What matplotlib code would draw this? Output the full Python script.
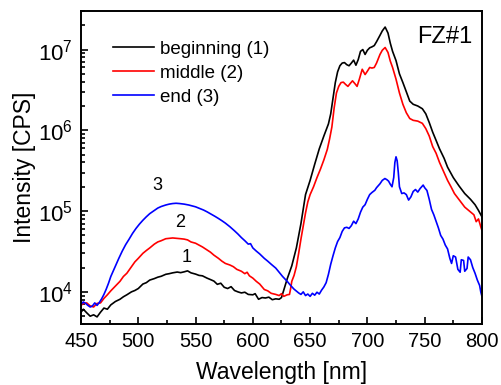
import matplotlib
matplotlib.use("Agg")
import matplotlib.pyplot as plt
import numpy as np

plt.rcParams['font.family'] = ['Liberation Sans', 'DejaVu Sans']
plt.rcParams['mathtext.fontset'] = 'custom'
plt.rcParams['mathtext.rm'] = 'Liberation Sans'
plt.rcParams['mathtext.it'] = 'Liberation Sans:italic'
plt.rcParams['mathtext.bf'] = 'Liberation Sans:bold'

# ---- data ----
wl_1 = [450, 452, 455, 458, 461, 464, 467, 470, 473, 476, 480, 484, 487, 490, 494, 497, 500, 504, 507, 510,
        514, 517, 520, 524, 527, 530, 534, 537, 540, 543, 546, 550, 553, 556, 560, 563, 566, 569, 572, 575,
        578, 581, 584, 587, 590, 593, 596, 600, 602, 605, 608, 611, 614, 617, 620, 623, 625, 627, 630, 634,
        638, 642, 646, 650, 654, 658, 662, 666, 668, 670, 672, 674, 676, 678, 680, 682, 684, 686, 688, 690,
        692, 694, 696, 698, 700, 702, 704, 706, 708, 711, 713, 715.5, 718, 720, 722, 725, 728, 731, 734, 737,
        740, 744, 748, 751, 754, 757, 760, 763, 767, 770, 775, 780, 785, 790, 794, 797, 800]
int_1 = [5600, 6100, 5500, 5000, 5200, 4900, 5600, 6300, 6100, 6900, 7600, 8100, 8700, 9200, 10000, 10400, 11000, 12500, 13000, 14000,
         14600, 15200, 15600, 16500, 16800, 17200, 17600, 17300, 17700, 18200, 17200, 16600, 16000, 15800, 14800, 14200, 13600, 12400, 12800, 11400,
         11000, 11600, 10400, 10000, 9700, 9900, 9300, 9200, 9500, 8100, 8500, 8400, 8600, 8000, 8200, 8100, 8500, 10500, 14500, 21000,
         35000, 70000, 160000, 240000, 380000, 590000, 850000, 1200000, 1600000, 2500000, 3900000, 5300000, 6300000, 6800000, 6900000, 6500000, 6300000, 6800000, 7400000, 6400000,
         7500000, 9500000, 10000000, 8700000, 9800000, 10500000, 10800000, 11200000, 12500000, 15000000, 17000000, 19000000, 16000000, 12000000, 9500000, 7300000, 5000000, 3900000, 3000000, 2300000,
         2100000, 2000000, 1850000, 1600000, 1250000, 950000, 750000, 590000, 450000, 350000, 260000, 205000, 165000, 140000, 120000, 102000, 85000]

wl_2 = [450, 452, 455, 458, 461, 464, 467, 470, 473, 476, 480, 484, 487, 490, 494, 497, 500, 504, 507, 510,
        514, 517, 520, 524, 527, 530, 534, 537, 540, 543, 546, 550, 553, 556, 560, 563, 566, 570, 573, 576,
        580, 583, 586, 590, 593, 595, 597, 600, 603, 606, 610, 613, 616, 620, 623, 625, 627, 630, 632, 633,
        634, 636, 638, 640, 642, 644, 646, 648, 650, 653, 656, 659, 662, 665, 667, 669, 671, 673, 675, 677,
        679, 681, 683, 685, 687, 689, 691, 693, 695.5, 698, 700, 702, 704, 706, 708, 711, 713, 715.5, 718, 720,
        722, 725, 728, 731, 734, 737, 740, 744, 748, 751, 754, 757, 760, 763, 767, 770, 773, 776, 779, 782,
        785, 788, 791, 793, 795, 797, 799, 800]
int_2 = [6800, 7200, 7300, 6700, 6500, 7200, 7300, 8300, 9200, 10300, 11800, 13500, 15500, 17000, 20500, 23500, 26000, 30000, 32500, 35000,
         39000, 41500, 43000, 45500, 46000, 46500, 46000, 45500, 45000, 44000, 41500, 40000, 38000, 36000, 33000, 31000, 28500, 26000, 24000, 22500,
         21500, 20500, 19000, 18000, 16800, 17500, 15800, 14800, 13500, 12500, 10700, 10300, 9600, 9300, 9000, 9500, 8800, 9200, 9300, 11000,
         13500, 16000, 20500, 30000, 45000, 65000, 95000, 130000, 160000, 200000, 260000, 330000, 430000, 580000, 780000, 1100000, 1900000, 2900000, 3500000, 3900000,
         3950000, 3700000, 3500000, 3800000, 4100000, 3800000, 3500000, 4300000, 5700000, 4900000, 5400000, 6000000, 5900000, 6000000, 6800000, 8700000, 9800000, 10600000, 9200000, 7200000,
         6000000, 4300000, 2900000, 2100000, 1650000, 1400000, 1330000, 1300000, 1220000, 1050000, 850000, 630000, 520000, 400000, 300000, 240000, 200000, 165000, 145000, 128000,
         112000, 103000, 95000, 90000, 74000, 80000, 64000, 58000]

wl_3 = [450, 452, 454, 456, 458, 460, 462, 464, 466, 468, 470, 472, 474, 476, 478, 480, 483, 486, 489, 492,
        495, 498, 501, 504, 507, 510, 514, 517, 520, 524, 527, 530, 533, 536, 540, 544, 547, 550, 554, 557,
        560, 564, 567, 570, 573, 576, 580, 584, 587, 590, 593, 596, 598, 600, 603, 606, 610, 613, 616, 620,
        623, 626, 630, 633, 636, 640, 642, 644, 646, 648, 650, 652, 654, 656, 658, 660, 662, 664, 666, 668,
        670, 672, 674, 676, 678, 680, 682, 684, 686, 688, 690, 692, 694, 696, 698, 700, 702, 704, 706.5, 708,
        711, 713, 715.3, 717, 718.5, 720, 721.5, 723, 724, 725, 726, 727, 728, 730, 732, 734, 736, 738, 740, 742,
        744, 746, 748.7, 750, 752, 754, 756, 758, 760, 762, 764, 766, 768, 770, 772, 773.5, 775, 777, 779, 781,
        782, 784, 785, 787, 788, 790, 792, 794, 796, 798, 799, 800]
int_3 = [7000, 7500, 7200, 6800, 6500, 6700, 7300, 6800, 7400, 8200, 9300, 10800, 12800, 15500, 18000, 21000, 26000, 32000, 38500, 45000,
         53000, 61000, 69000, 77000, 85000, 93000, 102000, 109000, 114000, 119000, 122000, 124000, 125000, 124000, 122000, 119000, 116000, 113000, 107000, 103000,
         98000, 91000, 86000, 81000, 76000, 71000, 64000, 57000, 52000, 47000, 43000, 39000, 39500, 35000, 32000, 29500, 26000, 24000, 22000, 19700,
         17500, 15500, 13500, 12000, 10800, 9700, 9300, 10000, 9000, 9400, 8800, 9600, 9100, 9900, 9400, 10500, 11500, 13000, 16500, 22000,
         28000, 35000, 42000, 47000, 56000, 62000, 63000, 61000, 66000, 75000, 70000, 80000, 97000, 112000, 120000, 140000, 160000, 170000, 181000, 195000,
         218000, 240000, 253000, 245000, 235000, 215000, 200000, 260000, 400000, 470000, 420000, 300000, 200000, 165000, 168000, 160000, 137000, 150000, 175000, 185000,
         172000, 190000, 210000, 195000, 180000, 140000, 105000, 90000, 75000, 62000, 50000, 45000, 38000, 34000, 26000, 22500, 28000, 27000, 19000, 17500,
         25000, 24500, 18000, 19500, 27000, 25000, 20000, 17000, 14000, 12000, 10000, 8800]

series_labels = ["beginning (1)", "middle (2)", "end (3)"]
series_colors = ["#000000", "#ff0000", "#0000ff"]
curve_tags = ["1", "2", "3"]
tag_pos = [(542.5, 26500), (536.5, 73000), (517, 210000)]
xticks = [450, 500, 550, 600, 650, 700, 750, 800]
yticks = [1e4, 1e5, 1e6, 1e7]
ytick_labels = [r"$10^{4}$", r"$10^{5}$", r"$10^{6}$", r"$10^{7}$"]

fig = plt.figure(figsize=(5.02, 3.85), dpi=100)
ax = fig.add_axes([0.1614, 0.1584, 0.7986, 0.8130])

for wl, it, lab, col in zip([wl_1, wl_2, wl_3], [int_1, int_2, int_3], series_labels, series_colors):
    ax.plot(wl, it, color=col, lw=1.2, label=lab)

ax.set_yscale('log')
ax.set_xlim(450, 800)
ax.set_ylim(4000, 3e7)
ax.set_xticks(xticks)
ax.set_xticks(np.arange(450, 801, 25), minor=True)
ax.set_yticks(yticks)
ax.set_yticklabels(ytick_labels, fontsize=16)

for t, (x, y) in zip(curve_tags, tag_pos):
    ax.text(x, y, t, fontsize=13, ha='center', va='center')

ax.text(0.975, 0.917, "FZ#1", transform=ax.transAxes, fontsize=17, ha='right', va='center')

ax.set_xlabel("Wavelength [nm]", fontsize=16.5, labelpad=7)
ax.set_ylabel("Intensity [CPS]", fontsize=16.5, labelpad=1)

ax.tick_params(which='both', direction='in', top=False, right=False, width=1.2)
ax.tick_params(axis='x', labelsize=14.5)
ax.tick_params(which='major', length=5, pad=6)
ax.tick_params(which='minor', length=3)
for s in ax.spines.values():
    s.set_linewidth(1.4)

leg = ax.legend(loc='upper left', bbox_to_anchor=(0.06, 0.93), frameon=False, fontsize=13.5,
                handlelength=2.2, handletextpad=0.35, labelspacing=0.38, borderaxespad=0)

fig.savefig("out.png", dpi=100)
